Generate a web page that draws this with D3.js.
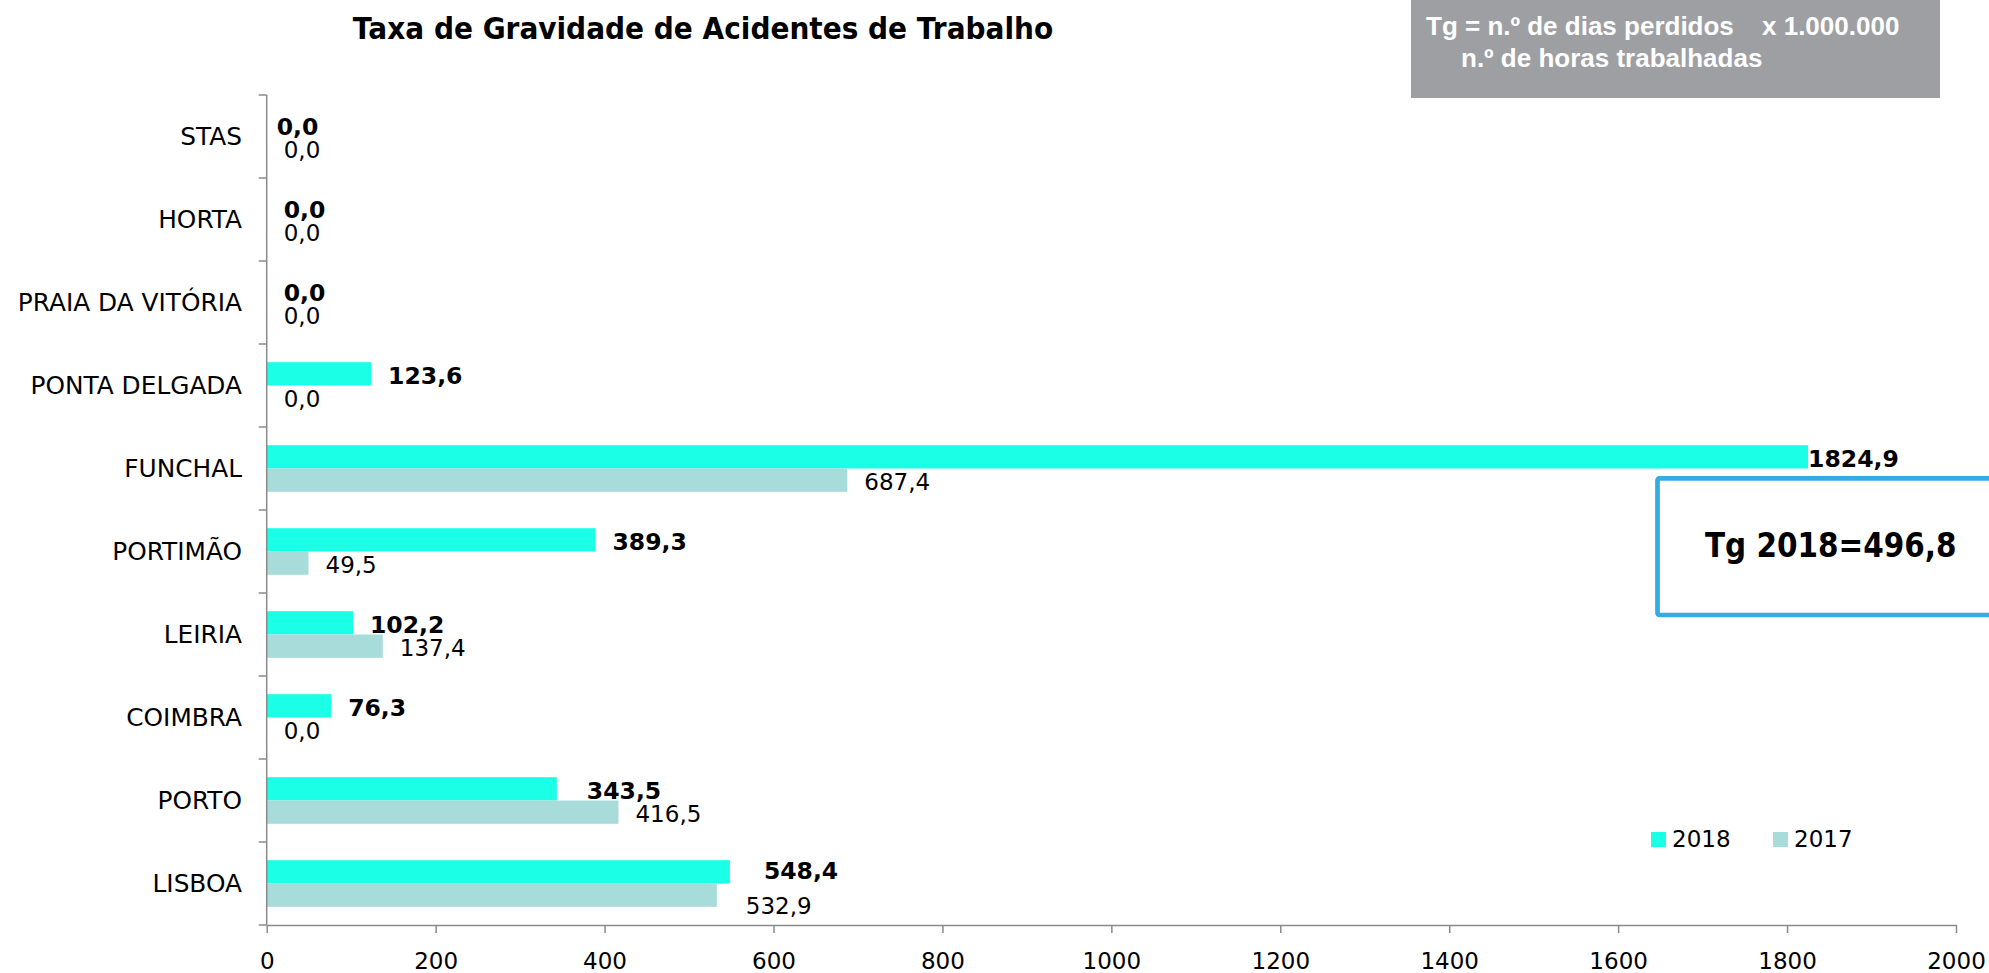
<!DOCTYPE html>
<html>
<head>
<meta charset="utf-8">
<script src="https://cdn.jsdelivr.net/npm/d3@7"></script>
<style>
  body { margin: 0; background: #fff; }
  svg { display: block; }
</style>
</head>
<body>
<div id="chart"></div>
<script>
// data (top to bottom)
var categories = ["STAS", "HORTA", "PRAIA DA VITÓRIA", "PONTA DELGADA", "FUNCHAL",
                  "PORTIMÃO", "LEIRIA", "COIMBRA", "PORTO", "LISBOA"];
var values2018 = [0, 0, 0, 123.6, 1824.9, 389.3, 102.2, 76.3, 343.5, 548.4];
var values2017 = [0, 0, 0, 0, 687.4, 49.5, 137.4, 0, 416.5, 532.9];
var seriesNames = ["2018", "2017"];
var xTicks = [0, 200, 400, 600, 800, 1000, 1200, 1400, 1600, 1800, 2000];
var chartTitle = "Taxa de Gravidade de Acidentes de Trabalho";
var formulaTop = "Tg = n.º de dias perdidos";
var formulaFactor = "x 1.000.000";
var formulaBottom = "n.º de horas trabalhadas";
var tgTotal = "Tg 2018=496,8";

var width = 1989, height = 973;
var colors = {"2018": "#1bffe6", "2017": "#a8dcda"};
var font = "'DejaVu Sans', Verdana, sans-serif";

// a few labels were moved by hand in the original
var labelNudge = {
  "STAS|2018": [-7, 0],
  "FUNCHAL|2018": [-17, 0],
  "PORTO|2018": [13, 0],
  "LISBOA|2018": [17, -3],
  "LISBOA|2017": [12, 9]
};

var rows = categories.map(function(c, i){
  return {cat: c, vals: [
    {key: "2018", value: values2018[i]},
    {key: "2017", value: values2017[i]}
  ]};
});

var svg = d3.select("#chart").append("svg")
    .attr("width", width)
    .attr("height", height)
    .style("font-family", font);

var x = d3.scaleLinear().domain([0, 2000]).range([266.7, 1956]);
var y0 = d3.scaleBand().domain(categories).range([95, 925]).padding(0);
var y1 = d3.scaleBand().domain(seriesNames).range([0, y0.bandwidth()])
    .paddingInner(0).paddingOuter(0.78);

var fmt = function(v){ return d3.format(".1f")(v).replace(".", ","); };

// title (slightly stretched up, the original face is taller)
svg.append("text")
    .attr("transform", "translate(703,39) scale(1,1.08)")
    .attr("text-anchor", "middle")
    .style("font-size", "28px").style("font-weight", "bold")
    .text(chartTitle);

// formula box
svg.append("rect")
    .attr("x", 1411).attr("y", -2)
    .attr("width", 529).attr("height", 100)
    .attr("fill", "#9e9fa3");
var fg = svg.append("g")
    .style("font-family", "'Liberation Sans', Arial, sans-serif")
    .style("font-weight", "bold").style("font-size", "26px")
    .attr("fill", "#fff");
fg.append("text").attr("x", 1426).attr("y", 35).text(formulaTop);
fg.append("text").attr("x", 1762).attr("y", 35).text(formulaFactor);
fg.append("text").attr("x", 1461).attr("y", 67).text(formulaBottom);

// bars
var groups = svg.append("g").selectAll("g")
    .data(rows)
    .enter().append("g")
    .attr("transform", function(d){ return "translate(0," + y0(d.cat) + ")"; });

groups.selectAll("rect")
    .data(function(d){ return d.vals; })
    .enter().append("rect")
    .attr("x", x(0))
    .attr("y", function(d){ return y1(d.key); })
    .attr("width", function(d){ return x(d.value) - x(0); })
    .attr("height", y1.bandwidth())
    .attr("fill", function(d){ return colors[d.key]; });

// value labels
groups.selectAll("text")
    .data(function(d){ return d.vals.map(function(v){ return {cat: d.cat, key: v.key, value: v.value}; }); })
    .enter().append("text")
    .attr("x", function(d){
      var n = labelNudge[d.cat + "|" + d.key] || [0, 0];
      return x(d.value) + 17 + n[0];
    })
    .attr("y", function(d){
      var n = labelNudge[d.cat + "|" + d.key] || [0, 0];
      return y1(d.key) + y1.bandwidth() / 2 + 2 + n[1];
    })
    .attr("dy", "0.36em")
    .style("font-size", function(d){ return d.key == "2018" ? "23.5px" : "23px"; })
    .style("font-weight", function(d){ return d.key == "2018" ? "bold" : "normal"; })
    .text(function(d){ return fmt(d.value); });

// y axis
var yAxis = svg.append("g");
yAxis.append("line")
    .attr("x1", x(0)).attr("x2", x(0))
    .attr("y1", y0.range()[0]).attr("y2", y0.range()[1])
    .attr("stroke", "#8a8a8a").attr("stroke-width", 1.5);
yAxis.selectAll("line.tick")
    .data(categories.concat(["end"]))
    .enter().append("line")
    .attr("class", "tick")
    .attr("x1", x(0) - 8).attr("x2", x(0))
    .attr("y1", function(d, i){ return y0.range()[0] + i * y0.step(); })
    .attr("y2", function(d, i){ return y0.range()[0] + i * y0.step(); })
    .attr("stroke", "#8a8a8a").attr("stroke-width", 1.5);
yAxis.selectAll("text")
    .data(categories)
    .enter().append("text")
    .attr("x", 242)
    .attr("y", function(d){ return y0(d) + y0.bandwidth() / 2; })
    .attr("dy", "0.36em")
    .attr("text-anchor", "end")
    .style("font-size", "24.8px")
    .text(function(d){ return d; });

// x axis
var xAxis = svg.append("g").attr("transform", "translate(0,925)")
    .call(d3.axisBottom(x).tickValues(xTicks).tickSize(8).tickSizeOuter(0).tickPadding(20)
      .tickFormat(d3.format("d")));
xAxis.select(".domain").attr("stroke", "#8a8a8a").attr("stroke-width", 1.5);
xAxis.selectAll(".tick line").attr("stroke", "#8a8a8a").attr("stroke-width", 1.5);
xAxis.selectAll(".tick text")
    .attr("fill", "#000")
    .style("font-family", font)
    .style("font-size", "23px");

// legend
var legend = svg.append("g").selectAll("g")
    .data(seriesNames)
    .enter().append("g")
    .attr("transform", function(d, i){ return "translate(" + (1651 + i * 122) + ",832)"; });
legend.append("rect")
    .attr("width", 15).attr("height", 15)
    .attr("fill", function(d){ return colors[d]; });
legend.append("text")
    .attr("x", 21).attr("y", 15)
    .style("font-size", "23px")
    .text(function(d){ return d; });

// total box
svg.append("rect")
    .attr("x", 1657.5).attr("y", 478.3)
    .attr("width", 400).attr("height", 136.7)
    .attr("rx", 2)
    .attr("fill", "#fff")
    .attr("stroke", "#30ade3").attr("stroke-width", 4.7);
svg.append("text")
    .attr("transform", "translate(1705,557) scale(1,1.12)")
    .style("font-size", "29.5px").style("font-weight", "bold")
    .text(tgTotal);
</script>
</body>
</html>
